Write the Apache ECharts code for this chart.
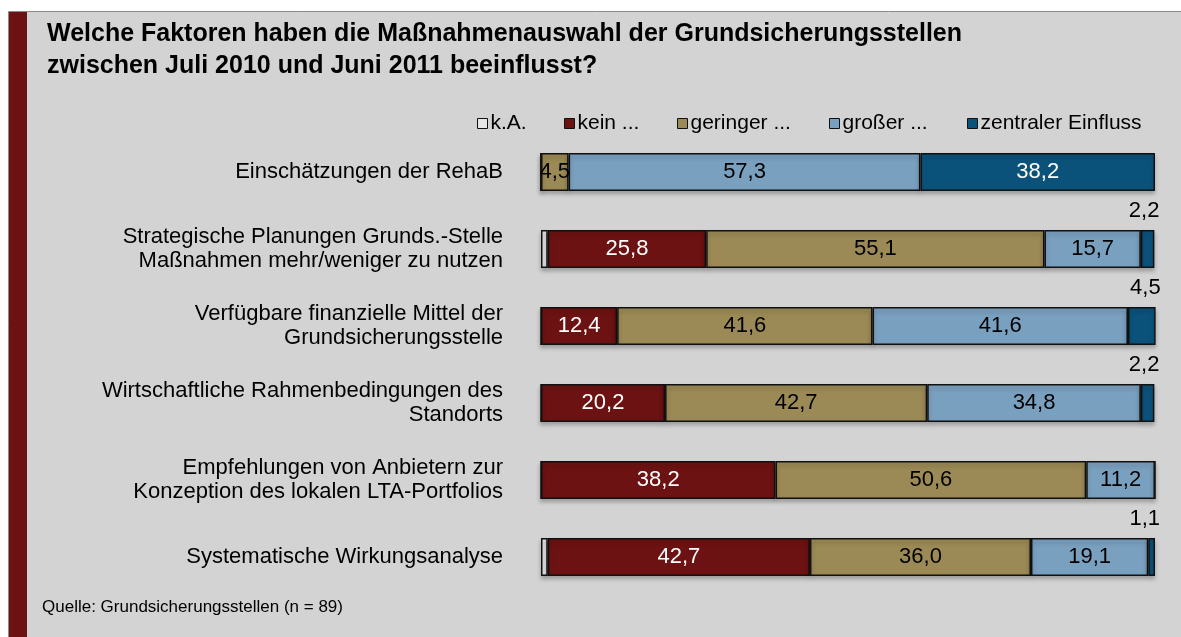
<!DOCTYPE html>
<html>
<head>
<meta charset="utf-8">
<script src="https://cdn.jsdelivr.net/npm/echarts@6/dist/echarts.min.js"></script>
<style>
  html, body { margin: 0; padding: 0; background: #ffffff; }
  #chart { width: 1181px; height: 637px; }
</style>
</head>
<body>
<div id="chart"></div>
<script>
// Survey categories (top to bottom)
const categories = [
  'Einschätzungen der RehaB',
  'Strategische Planungen Grunds.-Stelle\nMaßnahmen mehr/weniger zu nutzen',
  'Verfügbare finanzielle Mittel der\nGrundsicherungsstelle',
  'Wirtschaftliche Rahmenbedingungen des\nStandorts',
  'Empfehlungen von Anbietern zur\nKonzeption des lokalen LTA-Portfolios',
  'Systematische Wirkungsanalyse'
];

// Shares in percent per answer
const keineAngabe  = [0,    1.1,  0,    0,    0,    1.1];
const keinEinfluss = [0,    25.8, 12.4, 20.2, 38.2, 42.7];
const geringer     = [4.5,  55.1, 41.6, 42.7, 50.6, 36.0];
const grosser      = [57.3, 15.7, 41.6, 34.8, 11.2, 19.1];
const zentraler    = [38.2, 2.2,  4.5,  2.2,  0,    1.1];

const seriesNames = ['k.A.', 'kein ...', 'geringer ...', 'großer ...', 'zentraler Einfluss'];
const seriesData  = [keineAngabe, keinEinfluss, geringer, grosser, zentraler];
const seriesColors = ['#e6e6e6', '#6d1212', '#9b8a55', '#7aa0bf', '#0b527b'];
const labelColors  = ['#000000', '#ffffff', '#000000', '#000000', '#ffffff'];

const FONT = '"Liberation Sans", Arial, sans-serif';
const fmt = v => v.toFixed(1).replace('.', ',');

const chart = echarts.init(document.getElementById('chart'), null, { renderer: 'canvas' });

const series = seriesData.map((values, si) => ({
  name: seriesNames[si],
  type: 'bar',
  stack: 'total',
  barWidth: 38,
  itemStyle: {
    color: seriesColors[si],
    borderColor: '#111111',
    borderWidth: 1.5,
    shadowColor: 'rgba(0,0,0,0.25)',
    shadowBlur: 4,
    shadowOffsetY: 3
  },
  data: values.map(v => {
    const item = { value: v };
    if (si === 0 || v === 0) {
      item.label = { show: false };
    } else if (si === 4 && v < 5) {
      // narrow end segments carry their value above the bar end
      item.label = {
        show: true,
        position: ['100%', 0],
        align: 'right',
        verticalAlign: 'bottom',
        offset: [5, -8],
        color: '#000000'
      };
    }
    return item;
  }),
  label: {
    show: si !== 0,
    position: 'inside',
    color: labelColors[si],
    fontFamily: FONT,
    fontSize: 22,
    formatter: p => fmt(p.value)
  },
  emphasis: { disabled: true }
}));

// one legend block per entry so each marker sits at its own place
const legendLefts = [472, 559, 672, 824, 962];
const legends = seriesNames.map((name, i) => ({
  data: [name],
  left: legendLefts[i],
  top: 108,
  icon: 'rect',
  itemWidth: 10,
  itemHeight: 10,
  itemStyle: { borderColor: '#111111', borderWidth: 1, shadowBlur: 0, shadowOffsetY: 0 },
  textStyle: { fontFamily: FONT, fontSize: 21, color: '#000000', padding: [0, 0, 0, -2] },
  selectedMode: false
}));

chart.setOption({
  animation: false,
  backgroundColor: 'transparent',
  graphic: [
    { type: 'rect', shape: { x: 8.5, y: 11.5, width: 1180, height: 630 },
      style: { fill: '#d3d3d3', stroke: '#8a8a8a', lineWidth: 1 }, z: -10 },
    { type: 'rect', shape: { x: 9, y: 12, width: 18, height: 630 },
      style: { fill: '#6d1212' }, z: -9 },
    { type: 'text', left: 47, top: 18,
      style: { text: 'Welche Faktoren haben die Maßnahmenauswahl der Grundsicherungsstellen\nzwischen Juli 2010 und Juni 2011 beeinflusst?',
        font: 'bold 25px ' + FONT, fill: '#000000', lineHeight: 32 } },
    { type: 'text', left: 42, top: 599,
      style: { text: 'Quelle: Grundsicherungsstellen (n = 89)', font: '17px ' + FONT, fill: '#000000' } }
  ],
  legend: legends,
  grid: { left: 541, right: 26, top: 133.5, bottom: 41.5, containLabel: false },
  xAxis: {
    type: 'value', min: 0, max: 100, show: false
  },
  yAxis: {
    type: 'category',
    data: categories,
    inverse: true,
    axisLine: { show: false },
    axisTick: { show: false },
    axisLabel: {
      fontFamily: FONT, fontSize: 22, color: '#000000',
      lineHeight: 24, align: 'right', margin: 38,
      padding: [6, 0, 0, 0]
    }
  },
  series: series
});
</script>
</body>
</html>
